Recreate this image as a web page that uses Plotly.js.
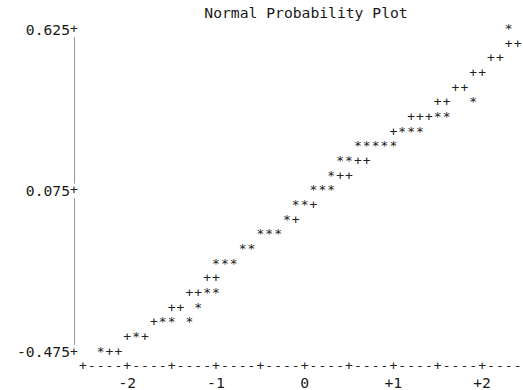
<!DOCTYPE html>
<html><head><meta charset="utf-8">
<script src="https://cdn.plot.ly/plotly-3.0.1.min.js"></script>
<style>html,body{margin:0;padding:0;background:#fff;}#chart{width:523px;height:390px;}</style>
</head><body><div id="chart"></div>
<script>
const starX = [2.3, 1.9, 1.5, 1.6, 1.1, 1.2, 1.3, 0.6, 0.7, 0.8, 0.9, 1.0, 0.4, 0.5, 0.3, 0.1, 0.2, 0.3,
  -0.1, 0.0, -0.2, -0.5, -0.4, -0.3, -0.7, -0.6, -1.0, -0.9, -0.8, -1.1, -1.0, -1.2, -1.6, -1.5, -1.3, -1.9, -2.3];
const starY = [0.625, 0.375, 0.325, 0.325, 0.275, 0.275, 0.275, 0.225, 0.225, 0.225, 0.225, 0.225, 0.175, 0.175, 0.125, 0.075, 0.075, 0.075,
  0.025, 0.025, -0.025, -0.075, -0.075, -0.075, -0.125, -0.125, -0.175, -0.175, -0.175, -0.275, -0.275, -0.325, -0.375, -0.375, -0.375, -0.425, -0.475];
const plusX = [2.3, 2.4, 2.1, 2.2, 1.9, 2.0, 1.7, 1.8, 1.5, 1.6, 1.2, 1.3, 1.4, 1.0, 0.6, 0.7, 0.4, 0.5, 0.1, -0.1,
  -1.1, -1.0, -1.3, -1.2, -1.5, -1.4, -1.7, -2.0, -1.8, -2.2, -2.1];
const plusY = [0.575, 0.575, 0.525, 0.525, 0.475, 0.475, 0.425, 0.425, 0.375, 0.375, 0.325, 0.325, 0.325, 0.275, 0.175, 0.175, 0.125, 0.125, 0.025, -0.025,
  -0.225, -0.225, -0.275, -0.275, -0.325, -0.325, -0.375, -0.425, -0.425, -0.475, -0.475];
const yTickVals = [0.625, 0.075, -0.475];
const yTickText = ['0.625', '0.075', '-0.475'];
const xTickVals = [-2, -1, 0, 1, 2];
const xTickText = ['-2', '-1', '0', '+1', '+2'];
const titleText = 'Normal Probability Plot';

const FONT = {family: 'DejaVu Sans Mono, monospace', size: 14.7, color: '#1a1a1a'};
const MARKFONT = {family: 'DejaVu Sans Mono, monospace', size: 13, color: '#222'};
const X0 = -2.6, X1 = 2.45, Y0 = -0.525, Y1 = 0.675;
const CELL = 0.1, ROW = 0.05;

// horizontal axis drawn in character style: "+----+----+..."
const axX = [], axT = [];
for (let c = 0; c < 50; c++) {
  const v = Math.round((-2.5 + c * CELL) * 10) / 10;
  axX.push(v);
  axT.push(Math.abs(v * 2 - Math.round(v * 2)) < 1e-9 ? '+' : '-');
}

const traces = [
  {x: plusX, y: plusY, mode: 'text', text: plusX.map(() => '+'), textposition: 'middle center',
   textfont: MARKFONT, hoverinfo: 'x+y', showlegend: false, cliponaxis: false},
  {x: starX, y: starY, mode: 'text', text: starX.map(() => '*'), textposition: 'middle center',
   textfont: MARKFONT, hoverinfo: 'x+y', showlegend: false, cliponaxis: false},
  {x: axX, y: axX.map(() => Y0), mode: 'text', text: axT, textposition: 'middle center',
   textfont: MARKFONT, hoverinfo: 'skip', showlegend: false, cliponaxis: false},
  {x: yTickVals.map(() => X0), y: yTickVals, mode: 'text', text: yTickVals.map(() => '+'), textposition: 'middle center',
   textfont: MARKFONT, hoverinfo: 'skip', showlegend: false, cliponaxis: false}
];

const layout = {
  width: 523, height: 390,
  margin: {l: 74, r: 1, t: 15, b: 23, pad: 0},
  paper_bgcolor: '#fff', plot_bgcolor: '#fff',
  font: FONT,
  title: {text: titleText, font: FONT, x: 306 / 523, xanchor: 'center', xref: 'container',
          y: 1 - 12.5 / 390, yanchor: 'middle', yref: 'container'},
  xaxis: {range: [X0, X1], showgrid: false, zeroline: false, showline: false,
          tickvals: xTickVals, ticktext: xTickText, ticks: 'outside', ticklen: 2, tickcolor: 'rgba(0,0,0,0)',
          tickfont: FONT, fixedrange: true},
  yaxis: {range: [Y0, Y1], showgrid: false, zeroline: false, showline: false,
          tickvals: yTickVals, ticktext: yTickText, ticks: 'outside', ticklen: 0, tickcolor: 'rgba(0,0,0,0)',
          tickfont: FONT, fixedrange: true},
  shapes: [
    {type: 'line', xref: 'x', yref: 'y', x0: X0, x1: X0, y0: 0.625 - ROW / 2, y1: 0.075 + ROW / 2,
     line: {color: '#333', width: 1}},
    {type: 'line', xref: 'x', yref: 'y', x0: X0, x1: X0, y0: 0.075 - ROW / 2, y1: -0.475 + ROW / 2,
     line: {color: '#333', width: 1}}
  ]
};

Plotly.newPlot('chart', traces, layout, {displayModeBar: false, staticPlot: true});
</script>
</body></html>
